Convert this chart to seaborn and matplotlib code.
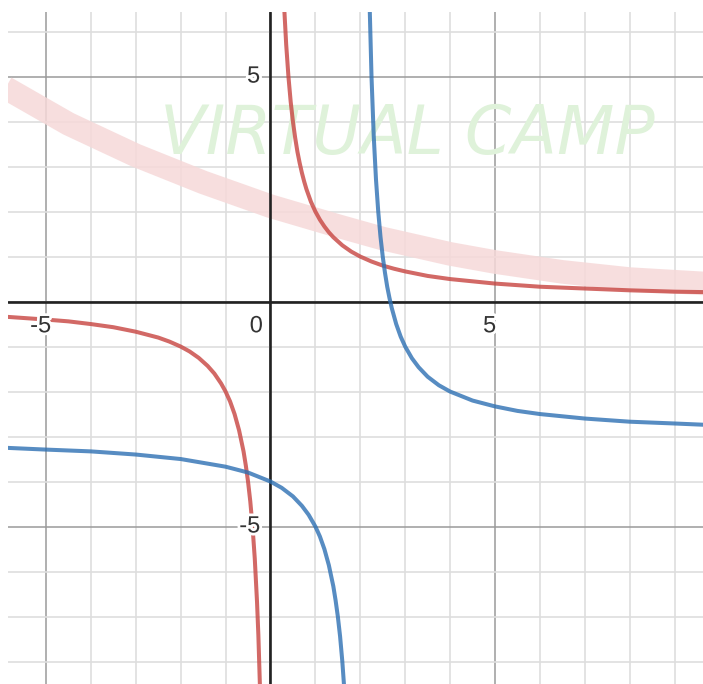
import numpy as np
import pandas as pd
import matplotlib
matplotlib.use("Agg")
import matplotlib.pyplot as plt
import matplotlib.patheffects as pe
import seaborn as sns

# ---- data ----
red_left_x = [-5.86, -5.0, -4.5, -4.0, -3.5, -3.0, -2.5, -2.25, -2.0, -1.8, -1.6, -1.4, -1.25,
              -1.1, -1.0, -0.9, -0.8, -0.7, -0.6, -0.55, -0.5, -0.45, -0.4, -0.35, -0.3, -0.27, -0.235]
red_left_y = [-0.34, -0.40, -0.44, -0.50, -0.57, -0.67, -0.80, -0.89, -1.00, -1.11, -1.25, -1.43,
              -1.60, -1.82, -2.00, -2.22, -2.50, -2.86, -3.33, -3.64, -4.00, -4.44, -5.00, -5.71,
              -6.67, -7.41, -8.55]
red_right_x = [0.30, 0.31, 0.35, 0.40, 0.45, 0.50, 0.55, 0.60, 0.65, 0.70, 0.75, 0.80, 0.90, 1.00,
               1.10, 1.20, 1.30, 1.40, 1.60, 1.80, 2.00, 2.25, 2.50, 2.75, 3.00, 3.50, 4.00, 5.00,
               6.00, 7.00, 8.00, 9.00, 9.70]
red_right_y = [6.67, 6.45, 5.71, 5.00, 4.44, 4.00, 3.64, 3.33, 3.08, 2.86, 2.67, 2.50, 2.22, 2.00,
               1.82, 1.67, 1.54, 1.43, 1.25, 1.11, 1.00, 0.89, 0.80, 0.73, 0.67, 0.57, 0.50, 0.40,
               0.33, 0.29, 0.25, 0.22, 0.21]
blue_left_x = [-5.90, -5.0, -4.0, -3.0, -2.0, -1.0, -0.5, 0.0, 0.25, 0.5, 0.7, 0.85, 1.0, 1.1,
               1.2, 1.3, 1.4, 1.45, 1.5, 1.55, 1.6, 1.64]
blue_left_y = [-3.25, -3.29, -3.33, -3.40, -3.50, -3.67, -3.80, -4.00, -4.14, -4.33, -4.54, -4.74,
               -5.00, -5.22, -5.50, -5.86, -6.33, -6.64, -7.00, -7.44, -8.00, -8.56]
blue_right_x = [2.21, 2.25, 2.30, 2.35, 2.40, 2.45, 2.50, 2.55, 2.60, 2.65, 2.70, 2.80, 2.90, 3.00,
                3.15, 3.30, 3.50, 3.75, 4.0, 4.5, 5.0, 5.5, 6.0, 7.0, 8.0, 9.0, 9.7]
blue_right_y = [6.52, 5.00, 3.67, 2.71, 2.00, 1.44, 1.00, 0.64, 0.33, 0.08, -0.14, -0.50, -0.78,
                -1.00, -1.26, -1.46, -1.67, -1.86, -2.00, -2.20, -2.33, -2.43, -2.50, -2.60, -2.67,
                -2.71, -2.74]

# watermark band (pink stroke)
band_x = [-5.9, -4.5, -3.0, -1.5, 0.0, 1.5, 2.5, 4.0, 5.0, 6.5, 8.0, 9.7]
band_y = [4.75, 3.95, 3.25, 2.65, 2.12, 1.68, 1.40, 1.06, 0.88, 0.66, 0.50, 0.40]
watermark_text = "VIRTUAL CAMP"

tick_labels_x = {-5: "-5", 5: "5"}
tick_labels_y = {-5: "-5", 5: "5"}

RED = "#c74440"
BLUE = "#2d70b3"

frames = []
for name, xs, ys in [("red_l", red_left_x, red_left_y), ("red_r", red_right_x, red_right_y),
                     ("blue_l", blue_left_x, blue_left_y), ("blue_r", blue_right_x, blue_right_y)]:
    frames.append(pd.DataFrame({"x": xs, "y": ys, "branch": name}))
df = pd.concat(frames, ignore_index=True)

sns.set_style("white")
plt.rcParams["font.family"] = ["Liberation Sans", "DejaVu Sans"]

fig = plt.figure(figsize=(7.03, 6.84), dpi=100)
ax = fig.add_axes([8 / 703, 0, 695 / 703, 672 / 684])
ax.set_xlim(-5.846, 9.633)
ax.set_ylim(-8.50, 6.436)

# grid
ax.set_xticks(np.arange(-5, 10, 5))
ax.set_yticks(np.arange(-5, 7, 5))
ax.set_xticks(np.arange(-5, 10, 1), minor=True)
ax.set_yticks(np.arange(-8, 7, 1), minor=True)
ax.grid(which="minor", color="#dedede", lw=1.2, zorder=0)
ax.grid(which="major", color="#9a9a9a", lw=1.1, zorder=0.5)
ax.tick_params(which="both", length=0, labelbottom=False, labelleft=False)
for s in ax.spines.values():
    s.set_visible(False)

# watermark
ax.plot(band_x, band_y, color="#f6d9d9", lw=17, solid_capstyle="butt", alpha=0.85, zorder=1)
ax.text(-2.45, 3.7, watermark_text, fontsize=48, color="#dff2da", style="italic",
        fontweight="light", family="DejaVu Sans", va="center", ha="left", zorder=1.2)

# axes
ax.axhline(0, color="#222222", lw=1.9, zorder=2)
ax.axvline(0, color="#222222", lw=1.9, zorder=2)

palette = {"red_l": RED, "red_r": RED, "blue_l": BLUE, "blue_r": BLUE}
sns.lineplot(data=df, x="x", y="y", hue="branch", units="branch", estimator=None, sort=False,
             palette=palette, lw=2.9, alpha=0.8, legend=False, ax=ax, zorder=3)
ax.set_xlabel("")
ax.set_ylabel("")

halo = [pe.withStroke(linewidth=4, foreground="white")]
for v, lab in tick_labels_x.items():
    ax.text(v - 0.12, -0.55, lab, fontsize=17, color="#333333", ha="center", va="center",
            path_effects=halo, zorder=4)
ax.text(-0.17, -0.55, "0", fontsize=17, color="#333333", ha="right", va="center",
        path_effects=halo, zorder=4)
for v, lab in tick_labels_y.items():
    ax.text(-0.23, v, lab, fontsize=17, color="#333333", ha="right", va="center",
            path_effects=halo, zorder=4)

fig.savefig("out.png", dpi=100, facecolor="white")
